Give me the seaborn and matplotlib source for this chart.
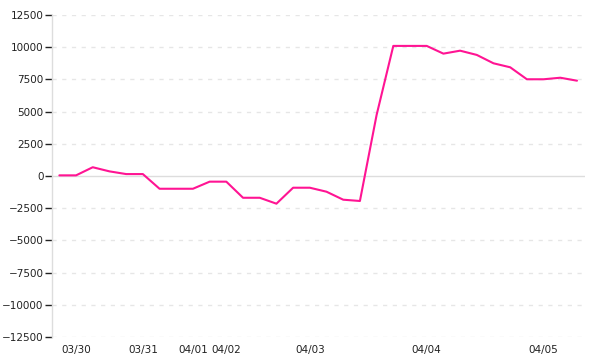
import matplotlib
matplotlib.use("Agg")
import matplotlib.pyplot as plt
import seaborn as sns
import pandas as pd
import numpy as np

# data
values = [50, 50, 680, 360, 150, 150, -990, -990, -990, -440, -440, -1690, -1690,
          -2150, -910, -910, -1220, -1840, -1940, 4740, 10100, 10100, 10100, 9500,
          9730, 9400, 8750, 8440, 7510, 7510, 7630, 7400]
tick_positions = [1, 5, 8, 10, 15, 22, 29]
tick_labels = ["03/30", "03/31", "04/01", "04/02", "04/03", "04/04", "04/05"]
y_ticks = [12500, 10000, 7500, 5000, 2500, 0, -2500, -5000, -7500, -10000, -12500]

df = pd.DataFrame({"idx": np.arange(len(values)), "value": values})

sns.set_style("white")
plt.rcParams["font.family"] = ["DejaVu Sans"]

fig = plt.figure(figsize=(6, 3.6), dpi=100)
ax = fig.add_axes([52/600, 1-337/360, (585-52)/600, (337-15)/360])

for yt in y_ticks:
    if yt == 0:
        ax.axhline(0, color="#dddddd", lw=1.0, zorder=1)
    else:
        ax.axhline(yt, color="#e6e6e6", lw=1.0, ls=(0, (3, 4)), zorder=1)

sns.lineplot(data=df, x="idx", y="value", ax=ax, color="#ff1493", lw=1.5, zorder=3)

ax.set_xlim(-0.44, 31.48)
ax.set_ylim(-12500, 12500)
ax.set_yticks(y_ticks)
ax.set_yticklabels([str(v).replace("-", "\u2212") for v in y_ticks])
ax.set_xticks(tick_positions)
ax.set_xticklabels(tick_labels)
ax.set_xlabel("")
ax.set_ylabel("")

for s in ["top", "right", "bottom"]:
    ax.spines[s].set_visible(False)
ax.spines["left"].set_color("#dddddd")
ax.spines["left"].set_linewidth(1.0)

ax.tick_params(axis="y", left=True, length=5, width=1, color="#222222", labelsize=7.5,
               labelcolor="#222222", pad=1)
ax.tick_params(axis="x", bottom=False, length=0, labelsize=7.5, labelcolor="#222222", pad=6)

fig.savefig("out.png", dpi=100, facecolor="white")
